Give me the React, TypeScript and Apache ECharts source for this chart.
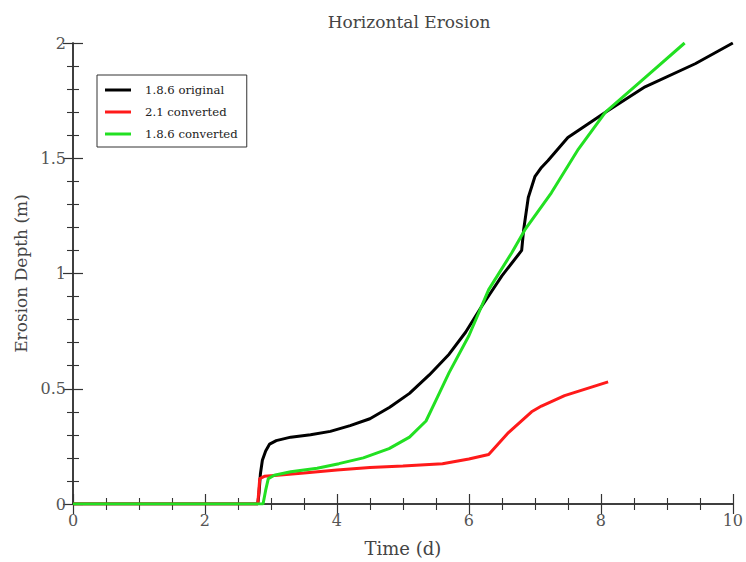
import React, { useEffect, useRef } from "react";
import * as echarts from "echarts";

const seriesNames = ["1.8.6 original", "2.1 converted", "1.8.6 converted"];

const original186: [number, number][] = [
  [0, 0], [2.8, 0], [2.82, 0.05], [2.84, 0.13], [2.87, 0.19], [2.92, 0.23], [2.98, 0.26],
  [3.08, 0.275], [3.3, 0.29], [3.6, 0.3], [3.9, 0.315], [4.2, 0.34], [4.5, 0.37], [4.8, 0.42],
  [5.1, 0.48], [5.4, 0.56], [5.7, 0.65], [5.95, 0.745], [6.2, 0.86], [6.5, 0.99], [6.8, 1.1],
  [6.83, 1.19], [6.9, 1.33], [7.0, 1.42], [7.1, 1.46], [7.2, 1.49], [7.5, 1.59], [8.07, 1.7],
  [8.67, 1.81], [9.43, 1.91], [10, 2.0],
];

const converted21: [number, number][] = [
  [0, 0], [2.8, 0], [2.83, 0.11], [2.9, 0.12], [3.1, 0.125], [3.5, 0.135], [4.0, 0.148],
  [4.5, 0.158], [5.0, 0.165], [5.6, 0.175], [6.0, 0.195], [6.3, 0.215], [6.6, 0.31],
  [6.95, 0.4], [7.1, 0.425], [7.45, 0.47], [8.11, 0.53],
];

const converted186: [number, number][] = [
  [0, 0], [2.88, 0], [2.92, 0.06], [2.96, 0.11], [3.05, 0.125], [3.3, 0.14], [3.7, 0.155],
  [4.03, 0.175], [4.4, 0.2], [4.79, 0.24], [5.1, 0.29], [5.35, 0.36], [5.5, 0.45], [5.7, 0.57],
  [6.0, 0.73], [6.3, 0.93], [6.65, 1.09], [6.85, 1.19], [7.25, 1.35], [7.66, 1.54], [8.07, 1.7],
  [8.67, 1.85], [9.27, 2.0],
];

const seriesColors = ["#000000", "#ff1a1a", "#22e022"];
const seriesData = [original186, converted21, converted186];

const FONT = "DejaVu Serif";

export default function App() {
  const ref = useRef<HTMLDivElement>(null);
  useEffect(() => {
    if (!ref.current) return;
    const chart = echarts.init(ref.current, null, { renderer: "svg" });
    const axisLine = { show: true, lineStyle: { color: "#333", width: 1.5 } };
    const tick = { show: true, inside: true, length: 10, lineStyle: { color: "#333", width: 1.2 } };
    const minorTick = (n: number) => ({ show: true, splitNumber: n, length: 6, lineStyle: { color: "#333", width: 1.1 } });
    const label = { color: "#555", fontFamily: FONT, fontSize: 16, margin: 8 };
    chart.setOption({
      animation: false,
      backgroundColor: "#fff",
      title: {
        text: "Horizontal Erosion",
        left: 404,
        textAlign: "center",
        top: 8,
        textStyle: { fontFamily: FONT, fontSize: 17, fontWeight: "normal", color: "#444" },
      },
      legend: {
        orient: "vertical",
        left: 97,
        top: 75,
        padding: [8, 9, 6, 8],
        itemGap: 8,
        itemWidth: 26,
        itemHeight: 3,
        icon: "rect",
        borderColor: "#333",
        borderWidth: 1,
        borderRadius: 0,
        textStyle: { fontFamily: FONT, fontSize: 11.7, color: "#222", lineHeight: 14, padding: [0, 0, 0, 9] },
        data: seriesNames,
      },
      grid: { left: 73, right: 11, top: 43, bottom: 57, containLabel: false },
      xAxis: [
        {
          type: "value", min: 0, max: 10, interval: 2,
          name: "Time (d)", nameLocation: "middle", nameGap: 35,
          nameTextStyle: { fontFamily: FONT, fontSize: 18, color: "#444" },
          axisLine, axisTick: tick, minorTick: minorTick(4), axisLabel: label,
          splitLine: { show: false },
        },
        {
          type: "value", min: 0, max: 10, interval: 2, position: "top",
          axisLine, axisTick: tick, minorTick: minorTick(4), axisLabel: { show: false },
          splitLine: { show: false },
        },
      ],
      yAxis: [
        {
          type: "value", min: 0, max: 2, interval: 0.5,
          name: "Erosion Depth (m)", nameLocation: "middle", nameGap: 44,
          nameTextStyle: { fontFamily: FONT, fontSize: 17, color: "#444" },
          axisLine, axisTick: tick, minorTick: minorTick(5), axisLabel: { ...label, margin: 7 },
          splitLine: { show: false },
        },
        {
          type: "value", min: 0, max: 2, interval: 0.5, position: "right",
          axisLine, axisTick: tick, minorTick: minorTick(5), axisLabel: { show: false },
          splitLine: { show: false },
        },
      ],
      series: seriesNames.map((name, i) => ({
        name,
        type: "line",
        data: seriesData[i],
        symbol: "none",
        lineStyle: { color: seriesColors[i], width: 3 },
        itemStyle: { color: seriesColors[i] },
      })),
    });
    return () => chart.dispose();
  }, []);
  return <div ref={ref} style={{ width: 746, height: 562, position: "absolute", left: 0, top: 0 }} />;
}
